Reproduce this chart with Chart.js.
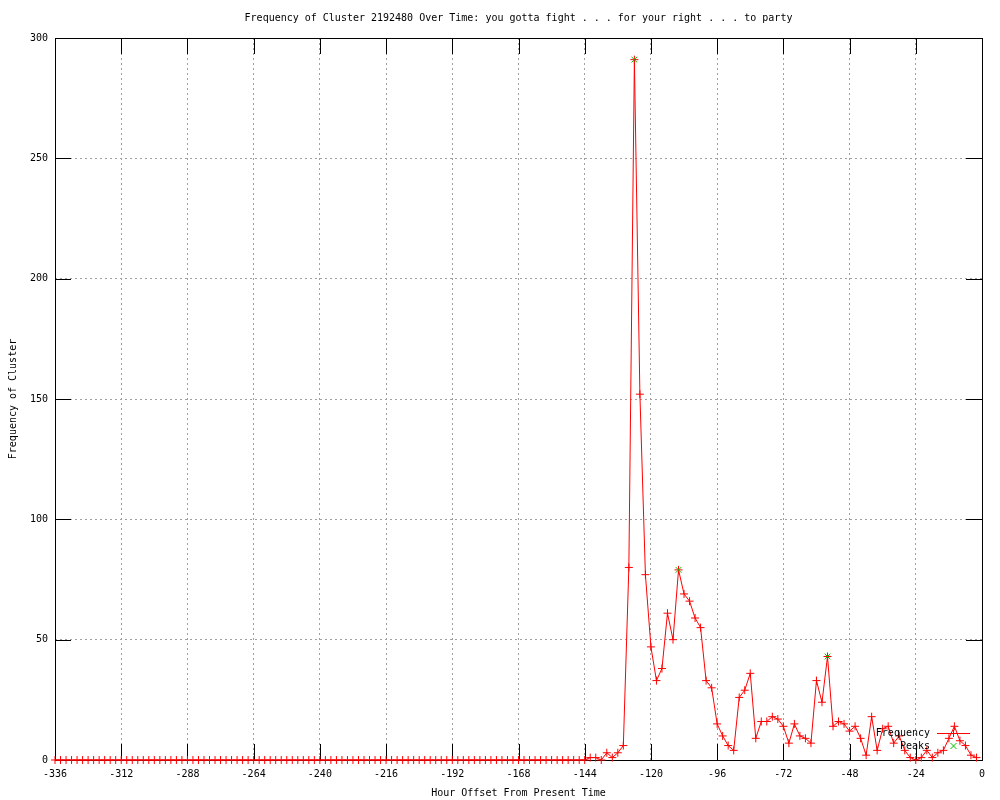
<!DOCTYPE html>
<html>
<head>
<meta charset="utf-8">
<script src="https://cdn.jsdelivr.net/npm/chart.js@4"></script>
<style>
  body { margin: 0; background: #fff; }
  #wrap { width: 1000px; height: 800px; }
</style>
</head>
<body>
<div id="wrap"><canvas id="chart"></canvas></div>
<script>
// hours before now, one sample every 2 hours
const hours = [
  -336, -334, -332, -330, -328, -326, -324, -322, -320, -318, -316, -314,
  -312, -310, -308, -306, -304, -302, -300, -298, -296, -294, -292, -290,
  -288, -286, -284, -282, -280, -278, -276, -274, -272, -270, -268, -266,
  -264, -262, -260, -258, -256, -254, -252, -250, -248, -246, -244, -242,
  -240, -238, -236, -234, -232, -230, -228, -226, -224, -222, -220, -218,
  -216, -214, -212, -210, -208, -206, -204, -202, -200, -198, -196, -194,
  -192, -190, -188, -186, -184, -182, -180, -178, -176, -174, -172, -170,
  -168, -166, -164, -162, -160, -158, -156, -154, -152, -150, -148, -146,
  -144, -142, -140, -138, -136, -134, -132, -130, -128, -126, -124, -122,
  -120, -118, -116, -114, -112, -110, -108, -106, -104, -102, -100, -98,
  -96, -94, -92, -90, -88, -86, -84, -82, -80, -78, -76, -74,
  -72, -70, -68, -66, -64, -62, -60, -58, -56, -54, -52, -50,
  -48, -46, -44, -42, -40, -38, -36, -34, -32, -30, -28, -26,
  -24, -22, -20, -18, -16, -14, -12, -10, -8, -6, -4, -2
];

const frequency = [
  0, 0, 0, 0, 0, 0, 0, 0, 0, 0, 0, 0,
  0, 0, 0, 0, 0, 0, 0, 0, 0, 0, 0, 0,
  0, 0, 0, 0, 0, 0, 0, 0, 0, 0, 0, 0,
  0, 0, 0, 0, 0, 0, 0, 0, 0, 0, 0, 0,
  0, 0, 0, 0, 0, 0, 0, 0, 0, 0, 0, 0,
  0, 0, 0, 0, 0, 0, 0, 0, 0, 0, 0, 0,
  0, 0, 0, 0, 0, 0, 0, 0, 0, 0, 0, 0,
  0, 0, 0, 0, 0, 0, 0, 0, 0, 0, 0, 0,
  0, 1, 1, 0, 3, 1, 3, 6, 80, 291, 152, 77,
  47, 33, 38, 61, 50, 79, 69, 66, 59, 55, 33, 30,
  15, 10, 6, 4, 26, 29, 36, 9, 16, 16, 18, 17,
  14, 7, 15, 10, 9, 7, 33, 24, 43, 14, 16, 15,
  12, 14, 9, 2, 18, 4, 13, 14, 7, 10, 4, 1,
  0, 1, 4, 1, 3, 4, 9, 14, 8, 6, 2, 1
];

const peakHours = [-126, -110, -56];
const peakValues = [291, 79, 43];

const xTicks = [-336, -312, -288, -264, -240, -216, -192, -168, -144, -120, -96, -72, -48, -24, 0];
const yTicks = [0, 50, 100, 150, 200, 250, 300];

const FONT = { family: 'DejaVu Sans Mono', size: 10, weight: 'normal' };

// inward tick marks on all four sides, plus the black frame
const frame = {
  id: 'frame',
  beforeDatasetsDraw(chart) {
    const { ctx, chartArea: a, scales: { x, y } } = chart;
    ctx.save();
    ctx.strokeStyle = '#000';
    ctx.lineWidth = 1;
    ctx.beginPath();
    xTicks.forEach(v => {
      const px = Math.round(x.getPixelForValue(v)) + 0.5;
      ctx.moveTo(px, a.bottom); ctx.lineTo(px, a.bottom - 16);
      ctx.moveTo(px, a.top); ctx.lineTo(px, a.top + 16);
    });
    yTicks.forEach(v => {
      const py = Math.round(y.getPixelForValue(v)) + 0.5;
      ctx.moveTo(a.left, py); ctx.lineTo(a.left + 16, py);
      ctx.moveTo(a.right, py); ctx.lineTo(a.right - 16, py);
    });
    ctx.stroke();
    ctx.strokeRect(Math.round(a.left) + 0.5, Math.round(a.top) + 0.5,
      Math.round(a.right - a.left), Math.round(a.bottom - a.top));
    ctx.restore();
  },
  afterDatasetsDraw(chart) {
    const { ctx } = chart;
    ctx.save();
    ctx.font = '10px "DejaVu Sans Mono"';
    ctx.fillStyle = '#000';
    ctx.textAlign = 'right';
    ctx.textBaseline = 'middle';
    ctx.fillText('Frequency', 930, 733);
    ctx.fillText('Peaks', 930, 746);
    // legend samples
    ctx.strokeStyle = '#ff0000';
    ctx.lineWidth = 1;
    ctx.beginPath();
    ctx.moveTo(937, 733.5); ctx.lineTo(970, 733.5);
    ctx.moveTo(953.5, 730); ctx.lineTo(953.5, 737);
    ctx.stroke();
    ctx.strokeStyle = '#00c000';
    ctx.beginPath();
    ctx.moveTo(950.5, 743); ctx.lineTo(956.5, 749);
    ctx.moveTo(956.5, 743); ctx.lineTo(950.5, 749);
    ctx.stroke();
    ctx.restore();
  }
};

let ctx = document.getElementById('chart').getContext('2d');
let myChart = new Chart(ctx, {
  type: 'line',
  data: {
    labels: hours,
    datasets: [{
      label: 'Frequency',
      data: frequency,
      borderColor: '#ff0000',
      borderWidth: 1,
      pointStyle: 'cross',
      pointRadius: 4,
      pointBorderColor: '#ff0000',
      pointBorderWidth: 1,
      tension: 0,
      clip: false,
      order: 2
    }, {
      label: 'Peaks',
      data: peakHours.map((h, i) => ({ x: h, y: peakValues[i] })),
      showLine: false,
      pointStyle: 'crossRot',
      pointRadius: 4,
      pointBorderColor: '#00c000',
      pointBorderWidth: 1,
      clip: false,
      order: 1
    }]
  },
  options: {
    responsive: true,
    maintainAspectRatio: false,
    animation: false,
    layout: { padding: { left: 0, right: 18, top: 0, bottom: 0 } },
    plugins: {
      legend: { display: false },
      tooltip: { enabled: false },
      title: {
        display: true,
        fullSize: false,
        text: 'Frequency of Cluster 2192480 Over Time: you gotta fight . . . for your right . . . to party',
        color: '#000',
        font: FONT,
        padding: { top: 12, bottom: 14 }
      }
    },
    scales: {
      x: {
        type: 'linear',
        min: -336,
        max: 0,
        afterBuildTicks: s => { s.ticks = xTicks.map(v => ({ value: v })); },
        afterFit: s => { s.height = 40; },
        ticks: { color: '#000', font: FONT, padding: 8, maxRotation: 0, autoSkip: false },
        grid: { color: '#a0a0a0', drawTicks: false, tickLength: 0 },
        border: { display: false, dash: [2, 3] },
        title: {
          display: true,
          text: 'Hour Offset From Present Time',
          color: '#000',
          font: FONT,
          padding: { top: 0, bottom: 1 }
        }
      },
      y: {
        min: 0,
        max: 300,
        afterBuildTicks: s => { s.ticks = yTicks.map(v => ({ value: v })); },
        afterFit: s => { s.width = 55; },
        ticks: { color: '#000', font: FONT, padding: 7 },
        grid: { color: '#a0a0a0', drawTicks: false, tickLength: 0 },
        border: { display: false, dash: [2, 3] },
        title: {
          display: true,
          text: 'Frequency of Cluster',
          color: '#000',
          font: FONT,
          padding: { top: 7, bottom: 0 }
        }
      }
    }
  },
  plugins: [frame]
});
</script>
</body>
</html>
